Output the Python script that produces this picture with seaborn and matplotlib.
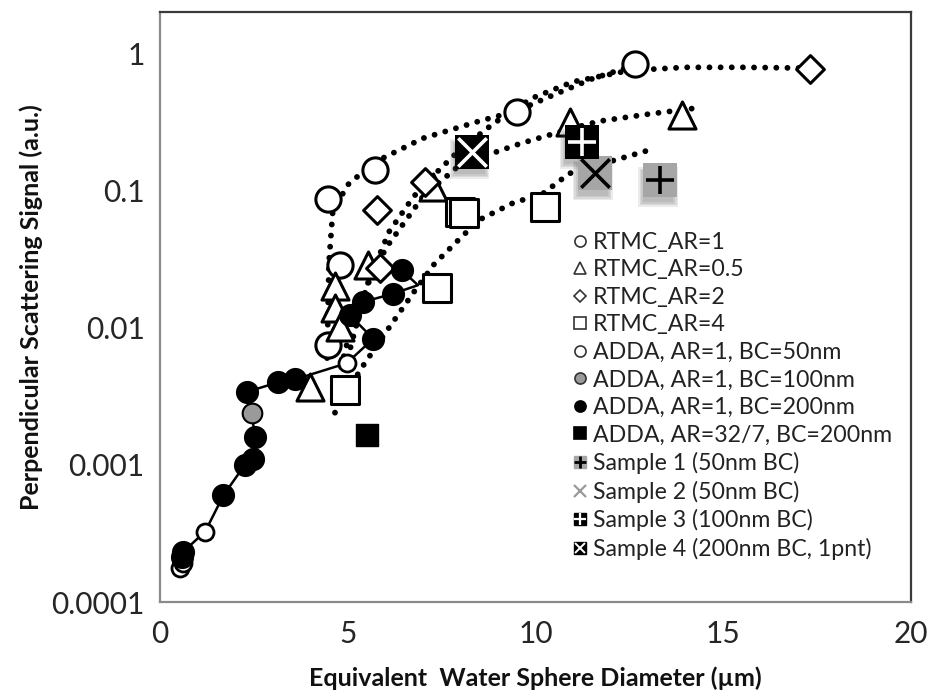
import numpy as np
import pandas as pd
import matplotlib
matplotlib.use("Agg")
import matplotlib.pyplot as plt
import seaborn as sns
from matplotlib.lines import Line2D
from matplotlib.ticker import MultipleLocator, LogLocator, NullFormatter

# ---------------- data ----------------
rtmc_ar1_x = [4.48, 4.48, 4.79, 5.73, 9.50, 12.65]
rtmc_ar1_y = [0.0075, 0.087, 0.0285, 0.14, 0.373, 0.84]
rtmc_ar05_x = [3.99, 4.66, 4.66, 4.79, 5.55, 7.28, 10.92, 13.89]
rtmc_ar05_y = [0.0037, 0.020, 0.0139, 0.0101, 0.0285, 0.106, 0.316, 0.353]
rtmc_ar2_x = [5.86, 5.77, 7.06, 17.31]
rtmc_ar2_y = [0.027, 0.0718, 0.115, 0.774]
rtmc_ar4_x = [4.93, 7.37, 7.99, 8.10, 10.25]
rtmc_ar4_y = [0.0035, 0.0193, 0.0698, 0.068, 0.076]

adda50_x = [0.53, 0.61, 1.20, 4.97]
adda50_y = [0.000176, 0.000194, 0.000325, 0.0055]
adda100_x = [2.44]
adda100_y = [0.00237]
adda200_x = [0.58, 0.62, 1.69, 2.26, 2.49, 2.53, 2.31, 3.15, 3.60, 5.68, 5.06, 5.41, 6.21, 6.44]
adda200_y = [0.000214, 0.000233, 0.0006, 0.0010, 0.00111, 0.0016, 0.0034, 0.0040, 0.0042,
             0.0083, 0.0123, 0.0154, 0.0177, 0.0262]
adda_rod_x = [5.50]
adda_rod_y = [0.00165]

# ADDA connecting line, in simulation order
adda_path_x = [0.53, 0.58, 0.62, 1.20, 1.69, 2.26, 2.49, 2.53, 2.44, 2.31, 3.15, 3.60, 4.97, 5.68,
               5.06, 5.41, 6.21, 6.87, 6.44]
adda_path_y = [0.000176, 0.000214, 0.000233, 0.000325, 0.0006, 0.0010, 0.00111, 0.0016, 0.00237,
               0.0034, 0.0040, 0.0042, 0.0055, 0.0083, 0.0123, 0.0154, 0.0177, 0.0204, 0.0262]

# dotted trend curves
trend_ar1_x = [4.45, 4.50, 4.60, 5.00, 5.70, 7.00, 8.50, 9.50, 10.50, 11.50, 12.65]
trend_ar1_y = [0.006, 0.03, 0.07, 0.11, 0.16, 0.24, 0.32, 0.38, 0.50, 0.65, 0.82]
trend_ar2_x = [5.00, 5.50, 6.10, 6.75, 7.30, 8.00, 8.90, 9.90, 11.0, 12.5, 14.0, 15.5, 17.3]
trend_ar2_y = [0.006, 0.02, 0.05, 0.09, 0.13, 0.20, 0.31, 0.47, 0.62, 0.75, 0.79, 0.79, 0.78]
trend_ar05_x = [4.60, 5.00, 5.67, 6.10, 7.00, 8.00, 9.60, 10.9, 11.7, 13.0, 14.16]
trend_ar05_y = [0.003, 0.008, 0.026, 0.041, 0.09, 0.155, 0.22, 0.28, 0.32, 0.36, 0.395]
trend_ar4_x = [4.66, 5.35, 6.10, 6.75, 7.30, 8.00, 8.50, 9.40, 10.2, 10.9, 13.0]
trend_ar4_y = [0.0024, 0.005, 0.010, 0.018, 0.029, 0.045, 0.061, 0.081, 0.095, 0.133, 0.196]

s1_x, s1_y = [13.32], [0.119]
s2_x, s2_y = [11.58], [0.133]
s3_x, s3_y = [11.23], [0.226]
s4_x, s4_y = [8.30], [0.191]

legend_labels = ["RTMC_AR=1", "RTMC_AR=0.5", "RTMC_AR=2", "RTMC_AR=4",
                 "ADDA, AR=1, BC=50nm", "ADDA, AR=1, BC=100nm", "ADDA, AR=1, BC=200nm",
                 "ADDA, AR=32/7, BC=200nm", "Sample 1 (50nm BC)", "Sample 2 (50nm BC)",
                 "Sample 3 (100nm BC)", "Sample 4 (200nm BC, 1pnt)"]
x_ticks = [0, 5, 10, 15, 20]
y_tick_labels = ["0.0001", "0.001", "0.01", "0.1", "1"]

# ---------------- style ----------------
sns.set_theme(style="white")
plt.rcParams["font.family"] = ["Lato", "DejaVu Sans"]

fig = plt.figure(figsize=(9.32, 6.96), dpi=100)
ax = fig.add_axes([160 / 932, 1 - 602 / 696, (911 - 160) / 932, (602 - 12) / 696])
ax.set_yscale("log")

dot_kw = dict(color="black", lw=4.2, linestyle=(0, (0.01, 1.9)), dash_capstyle="round",
              zorder=2, legend=False, sort=False, estimator=None)
for tx, ty in [(trend_ar1_x, trend_ar1_y), (trend_ar2_x, trend_ar2_y),
               (trend_ar05_x, trend_ar05_y), (trend_ar4_x, trend_ar4_y)]:
    sns.lineplot(x=tx, y=ty, ax=ax, **dot_kw)

sns.lineplot(x=adda_path_x, y=adda_path_y, ax=ax, color="black", lw=1.8, sort=False,
             estimator=None, legend=False, zorder=3)

big = dict(color="white", edgecolor="black", linewidth=2.2, zorder=5, legend=False, ax=ax)
sns.scatterplot(x=rtmc_ar1_x, y=rtmc_ar1_y, marker="o", s=330, **big)
sns.scatterplot(x=rtmc_ar05_x, y=rtmc_ar05_y, marker="^", s=380, **big)
sns.scatterplot(x=rtmc_ar2_x, y=rtmc_ar2_y, marker="D", s=200, **big)
sns.scatterplot(x=rtmc_ar4_x, y=rtmc_ar4_y, marker="s", s=380, **big)

sns.scatterplot(x=adda50_x, y=adda50_y, marker="o", s=150, color="white", edgecolor="black",
                linewidth=2.0, zorder=6, legend=False, ax=ax)
sns.scatterplot(x=adda200_x, y=adda200_y, marker="o", s=230, color="black", edgecolor="black",
                linewidth=1.5, zorder=6, legend=False, ax=ax)
sns.scatterplot(x=adda100_x, y=adda100_y, marker="o", s=200, color="#9a9a9a", edgecolor="black",
                linewidth=1.5, zorder=7, legend=False, ax=ax)
sns.scatterplot(x=adda_rod_x, y=adda_rod_y, marker="s", s=260, color="black", edgecolor="black",
                linewidth=1, zorder=6, legend=False, ax=ax)

# samples: soft shadow, square, inner glyph
def sample(xs, ys, face, glyph, gcol):
    off = fig.dpi_scale_trans
    for k in range(4):
        sns.scatterplot(x=xs, y=ys, marker="s", s=480 + 110 * k, color="#505050", edgecolor="none",
                        alpha=0.11, zorder=7, legend=False, ax=ax,
                        transform=ax.transData + matplotlib.transforms.ScaledTranslation(-0.02, -0.07, off))
    sns.scatterplot(x=xs, y=ys, marker="s", s=580, color=face, edgecolor=face, linewidth=0,
                    zorder=8, legend=False, ax=ax)
    sns.scatterplot(x=xs, y=ys, marker=glyph, s=420, color=gcol, linewidth=2.6,
                    zorder=9, legend=False, ax=ax)

sample(s1_x, s1_y, "#a6a6a6", "+", "black")
sample(s2_x, s2_y, "#a6a6a6", "x", "black")
sample(s3_x, s3_y, "black", "+", "white")
sample(s4_x, s4_y, "black", "x", "white")

# axes
ax.set_xlim(0, 20)
ax.set_ylim(1e-4, 2)
ax.xaxis.set_minor_locator(MultipleLocator(1))
ax.set_xticks(x_ticks)
ax.set_xticklabels([str(v) for v in x_ticks])
ax.yaxis.set_minor_locator(LogLocator(base=10, subs=np.arange(2, 10), numticks=50))
ax.set_yticks([1e-4, 1e-3, 1e-2, 1e-1, 1])
ax.set_yticklabels(y_tick_labels)
ax.yaxis.set_minor_formatter(NullFormatter())
ax.tick_params(axis="both", which="both", direction="in", colors="#8a8a8a", labelcolor="#262626",
               labelsize=21.5, width=1.4)
ax.tick_params(axis="x", which="both", length=9, pad=13)
ax.tick_params(axis="y", which="major", length=12, pad=11)
ax.tick_params(axis="y", which="minor", length=8)
for side in ["left", "bottom"]:
    ax.spines[side].set_color("#8a8a8a")
    ax.spines[side].set_linewidth(1.6)
for side in ["top", "right"]:
    ax.spines[side].set_color("#3a3a3a")
    ax.spines[side].set_linewidth(1.6)
    ax.spines[side].set_visible(True)

ax.set_xlabel("Equivalent  Water Sphere Diameter (µm)", fontsize=18, fontweight="bold",
              color="#111111", labelpad=13)
ax.set_ylabel("Perpendicular Scattering Signal (a.u.)", fontsize=18, fontweight="bold",
              color="#111111", labelpad=6)

# legend
ms = 8
h = [
    Line2D([], [], ls="", marker="o", mfc="white", mec="#333", ms=ms, mew=1.2),
    Line2D([], [], ls="", marker="^", mfc="white", mec="#333", ms=ms, mew=1.2),
    Line2D([], [], ls="", marker="D", mfc="white", mec="#333", ms=ms - 2, mew=1.2),
    Line2D([], [], ls="", marker="s", mfc="white", mec="#333", ms=ms, mew=1.2),
    Line2D([], [], ls="", marker="o", mfc="white", mec="#333", ms=ms, mew=1.2),
    Line2D([], [], ls="", marker="o", mfc="#9a9a9a", mec="#333", ms=ms, mew=1.2),
    Line2D([], [], ls="", marker="o", mfc="black", mec="black", ms=ms, mew=1.2),
    Line2D([], [], ls="", marker="s", mfc="black", mec="black", ms=ms, mew=1.2),
    (Line2D([], [], ls="", marker="s", mfc="#a6a6a6", mec="#a6a6a6", ms=ms + 1),
     Line2D([], [], ls="", marker="+", mec="black", ms=ms, mew=2)),
    (Line2D([], [], ls="", marker="s", mfc="white", mec="white", ms=ms + 1),
     Line2D([], [], ls="", marker="x", mec="#9a9a9a", ms=ms, mew=1.6)),
    (Line2D([], [], ls="", marker="s", mfc="black", mec="black", ms=ms + 1),
     Line2D([], [], ls="", marker="+", mec="white", ms=ms + 1, mew=1.6)),
    (Line2D([], [], ls="", marker="s", mfc="black", mec="black", ms=ms + 1),
     Line2D([], [], ls="", marker="x", mec="white", ms=ms - 1, mew=1.4)),
]
leg = ax.legend(h, legend_labels, loc="upper left", bbox_to_anchor=(573 / 932, 1 - 232 / 696),
                bbox_transform=fig.transFigure, frameon=False, fontsize=16.7, handlelength=0.6,
                handletextpad=0.25, labelspacing=0.28, borderpad=0, borderaxespad=0)
for t in leg.get_texts():
    t.set_color("#222222")

fig.savefig("out.png", dpi=100)
